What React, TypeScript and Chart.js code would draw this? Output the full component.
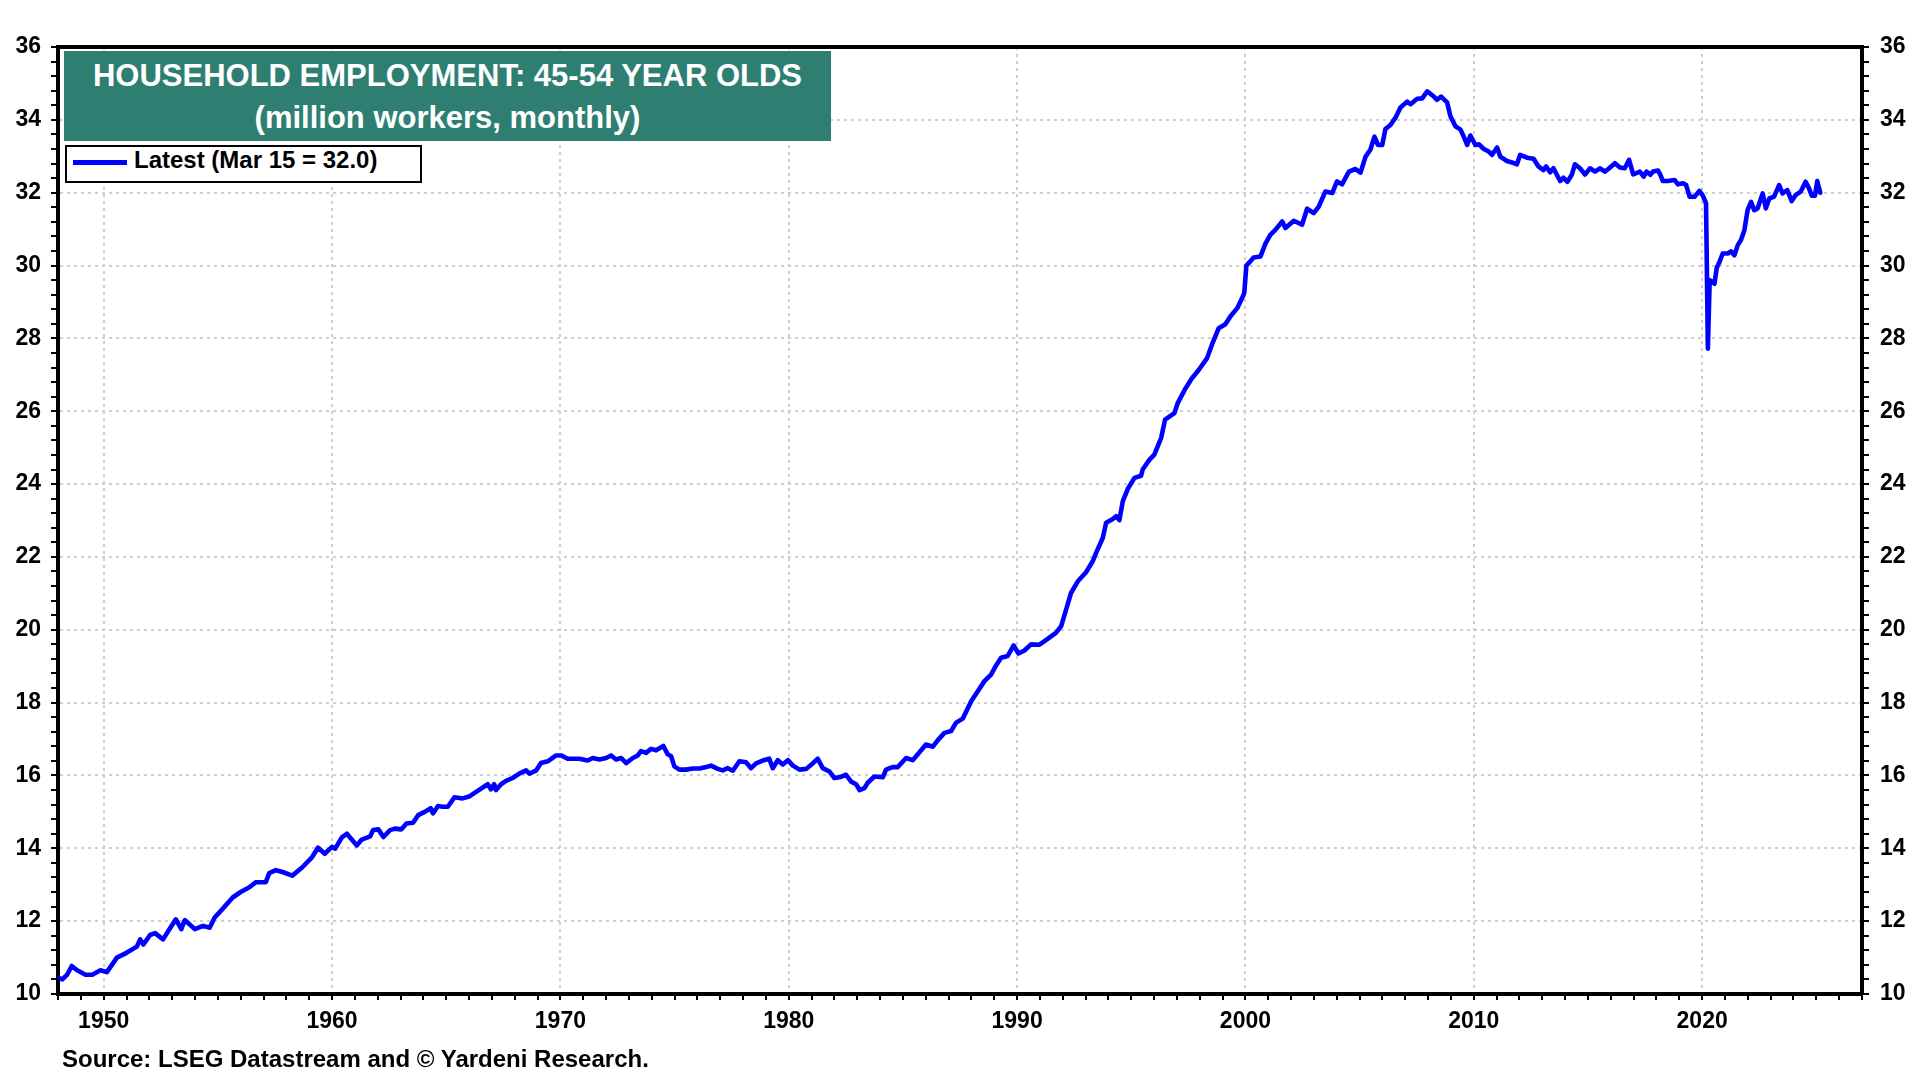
import React, { useEffect, useRef } from "react";
import { Chart, registerables } from "chart.js";

Chart.register(...registerables);

const FONT = "'Liberation Sans', Arial, Helvetica, sans-serif";

const TITLE = "HOUSEHOLD EMPLOYMENT: 45-54 YEAR OLDS";
const SUBTITLE = "(million workers, monthly)";
const LEGEND_LABEL = "Latest (Mar 15 = 32.0)";
const SOURCE = "Source: LSEG Datastream and \u00A9 Yardeni Research.";

const X_MIN = 1948;
const X_MAX = 2027;
const X_LABEL_STEP = 10;
const X_MINOR_STEP = 1;
const Y_MIN = 10;
const Y_MAX = 36;
const Y_LABEL_STEP = 2;
const Y_MINOR_STEP = 0.4;

// Household employment, 45-54 year olds (millions)
const years1948 = [
  1948.0, 1948.19, 1948.4, 1948.6, 1948.84, 1949.2, 1949.5, 1949.86, 1950.14, 1950.58,
  1951.0, 1951.45, 1951.6, 1951.74, 1952.03, 1952.25, 1952.6, 1952.83, 1953.16, 1953.4,
  1953.55, 1953.99, 1954.35, 1954.64, 1954.86, 1955.14, 1955.65, 1956.0, 1956.38, 1956.67,
  1957.1, 1957.25, 1957.54, 1957.83, 1958.26, 1958.7, 1959.13, 1959.39, 1959.68, 1960.0,
  1960.14, 1960.43, 1960.65, 1961.09, 1961.3, 1961.67, 1961.8, 1962.03, 1962.25, 1962.54,
  1962.75, 1963.04, 1963.26, 1963.55, 1963.77, 1964.06, 1964.32, 1964.42, 1964.64, 1964.86,
  1965.07, 1965.36, 1965.72, 1966.0, 1966.31, 1966.82, 1966.96, 1967.1, 1967.18, 1967.4,
  1967.62, 1967.91, 1968.2, 1968.5, 1968.64, 1968.93, 1969.15, 1969.45, 1969.81,
];
const values1948 = [
  10.45, 10.4, 10.53, 10.77, 10.65, 10.53, 10.53, 10.65, 10.6, 11.0,
  11.13, 11.3, 11.5, 11.36, 11.62, 11.67, 11.5, 11.73, 12.05, 11.78,
  12.03, 11.78, 11.87, 11.82, 12.1, 12.29, 12.65, 12.8, 12.93, 13.07,
  13.07, 13.32, 13.4, 13.35, 13.25, 13.48, 13.76, 14.02, 13.85, 14.04,
  13.99, 14.3, 14.4, 14.08, 14.24, 14.33, 14.5, 14.52, 14.31, 14.5,
  14.54, 14.52, 14.68, 14.7, 14.91, 15.0, 15.1, 14.96, 15.16, 15.14,
  15.14, 15.4, 15.37, 15.42, 15.55, 15.76, 15.62, 15.76, 15.6, 15.76,
  15.85, 15.93, 16.05, 16.14, 16.05, 16.13, 16.34, 16.39, 16.55,
];

const years1970 = [
  1970.03, 1970.32, 1970.61, 1970.83, 1971.2, 1971.42, 1971.71, 1972.0, 1972.22, 1972.44,
  1972.66, 1972.88, 1973.17, 1973.39, 1973.53, 1973.75, 1973.97, 1974.19, 1974.51, 1974.7,
  1974.85, 1974.99, 1975.21, 1975.5, 1975.8, 1976.09, 1976.38, 1976.6, 1976.89, 1977.11,
  1977.33, 1977.55, 1977.84, 1978.13, 1978.35, 1978.57, 1978.86, 1979.15, 1979.3, 1979.52,
  1979.74, 1979.96, 1980.18, 1980.47, 1980.76, 1981.05, 1981.27, 1981.49, 1981.78, 1982.0,
  1982.22, 1982.51, 1982.73, 1982.95, 1983.1, 1983.31, 1983.46, 1983.75, 1984.12, 1984.26,
  1984.55, 1984.77, 1985.14, 1985.43, 1985.65, 1986.01, 1986.31, 1986.53, 1986.82, 1987.11,
  1987.33, 1987.62, 1987.99, 1988.35, 1988.57, 1988.86, 1989.08, 1989.3, 1989.59, 1989.85,
];
const values1970 = [
  16.55, 16.46, 16.46, 16.46, 16.41, 16.48, 16.44, 16.48, 16.55, 16.44,
  16.48, 16.34, 16.48, 16.55, 16.67, 16.62, 16.73, 16.69, 16.81, 16.58,
  16.53, 16.25, 16.16, 16.16, 16.19, 16.19, 16.23, 16.27, 16.18, 16.14,
  16.2, 16.13, 16.39, 16.36, 16.2, 16.33, 16.41, 16.46, 16.2, 16.42,
  16.3, 16.42, 16.27, 16.16, 16.18, 16.33, 16.46, 16.2, 16.11, 15.93,
  15.95, 16.02, 15.83, 15.76, 15.6, 15.65, 15.8, 15.97, 15.95, 16.16,
  16.23, 16.23, 16.48, 16.42, 16.58, 16.85, 16.79, 16.97, 17.17, 17.22,
  17.45, 17.56, 18.04, 18.38, 18.59, 18.77, 19.02, 19.23, 19.28, 19.57,
];

const years1990 = [
  1990.06, 1990.32, 1990.61, 1990.98, 1991.34, 1991.71, 1991.93, 1992.15, 1992.36, 1992.66,
  1993.02, 1993.31, 1993.46, 1993.75, 1993.9, 1994.19, 1994.34, 1994.48, 1994.63, 1994.85,
  1995.14, 1995.43, 1995.5, 1995.8, 1996.01, 1996.31, 1996.48, 1996.89, 1997.04, 1997.35,
  1997.65, 1997.96, 1998.32, 1998.54, 1998.83, 1999.12, 1999.34, 1999.64, 1999.85, 1999.95,
  2000.04, 2000.15, 2000.36, 2000.66, 2000.88, 2001.09, 2001.31, 2001.61, 2001.75, 2002.12,
  2002.48, 2002.7, 2002.99, 2003.21, 2003.5, 2003.8, 2004.01, 2004.23, 2004.53, 2004.82,
  2005.04, 2005.26, 2005.47, 2005.65, 2005.8, 2005.99, 2006.13, 2006.35, 2006.57, 2006.79,
  2007.08, 2007.23, 2007.52, 2007.74, 2007.96, 2008.25, 2008.39, 2008.57, 2008.83, 2008.98,
  2009.2, 2009.42, 2009.56, 2009.71, 2009.85,
];
const values1990 = [
  19.35, 19.43, 19.6, 19.59, 19.75, 19.92, 20.1, 20.56, 21.01, 21.33,
  21.58, 21.88, 22.11, 22.52, 22.94, 23.04, 23.12, 23.01, 23.53, 23.87,
  24.17, 24.23, 24.4, 24.67, 24.81, 25.27, 25.77, 25.95, 26.23, 26.6,
  26.9, 27.14, 27.46, 27.84, 28.28, 28.39, 28.6, 28.83, 29.1, 29.25,
  30.0, 30.07, 30.22, 30.25, 30.61, 30.84, 30.98, 31.21, 31.03, 31.23,
  31.12, 31.56, 31.44, 31.62, 32.03, 31.99, 32.31, 32.23, 32.58, 32.65,
  32.55, 32.99, 33.18, 33.54, 33.31, 33.31, 33.75, 33.86, 34.06, 34.34,
  34.5, 34.43, 34.58, 34.59, 34.78, 34.64, 34.55, 34.64, 34.48, 34.09,
  33.82, 33.73, 33.54, 33.31, 33.57,
];

const years2010 = [
  2010.07, 2010.22, 2010.44, 2010.65, 2010.8, 2011.02, 2011.16, 2011.45, 2011.67, 2011.89,
  2012.03, 2012.33, 2012.62, 2012.83, 2013.05, 2013.17, 2013.34, 2013.49, 2013.63, 2013.78,
  2013.92, 2014.1, 2014.29, 2014.43, 2014.65, 2014.87, 2015.09, 2015.31, 2015.52, 2015.74,
  2015.89, 2016.18, 2016.4, 2016.61, 2016.8, 2016.98, 2017.27, 2017.44, 2017.56, 2017.73,
  2017.85, 2018.07, 2018.17, 2018.28, 2018.5, 2018.79, 2018.94, 2019.16, 2019.3, 2019.45,
  2019.67, 2019.88, 2020.03, 2020.17, 2020.25, 2020.33, 2020.54, 2020.64, 2020.76, 2020.9,
  2021.12, 2021.26, 2021.41, 2021.56, 2021.7, 2021.85, 2021.99, 2022.14, 2022.28, 2022.43,
  2022.65, 2022.79, 2022.94, 2023.15, 2023.37, 2023.52, 2023.73, 2023.92, 2024.1, 2024.32,
  2024.53, 2024.68, 2024.8, 2024.94, 2025.04, 2025.17,
];
const values2010 = [
  33.31, 33.33, 33.2, 33.13, 33.04, 33.24, 32.99, 32.87, 32.83, 32.78,
  33.04, 32.96, 32.93, 32.72, 32.62, 32.72, 32.56, 32.67, 32.5, 32.32,
  32.41, 32.3, 32.49, 32.78, 32.67, 32.5, 32.67, 32.58, 32.67, 32.58,
  32.65, 32.81, 32.69, 32.67, 32.9, 32.5, 32.58, 32.44, 32.58, 32.49,
  32.58, 32.61, 32.49, 32.32, 32.32, 32.35, 32.23, 32.26, 32.21, 31.89,
  31.89, 32.05, 31.92, 31.71, 27.72, 29.6, 29.5, 29.94, 30.1, 30.33,
  30.33, 30.39, 30.28, 30.56, 30.7, 30.97, 31.52, 31.75, 31.52, 31.57,
  31.98, 31.57, 31.84, 31.89, 32.21, 31.98, 32.07, 31.77, 31.94, 32.03,
  32.3, 32.12, 31.92, 31.92, 32.32, 32.0,
];

const SEGMENTS: [number[], number[]][] = [
  [years1948, values1948],
  [years1970, values1970],
  [years1990, values1990],
  [years2010, values2010],
];

const GRID_COLOR = "#cfcfcf";
const LINE_COLOR = "#0000ff";

const isMultiple = (v: number, step: number) =>
  Math.abs(v / step - Math.round(v / step)) < 1e-6;

export default function App() {
  const canvasRef = useRef<HTMLCanvasElement>(null);

  useEffect(() => {
    const canvas = canvasRef.current;
    if (!canvas) return;

    const points: { x: number; y: number }[] = [];
    SEGMENTS.forEach(([yrs, vals]) => {
      const n = Math.min(yrs.length, vals.length);
      for (let i = 0; i < n; i++) points.push({ x: yrs[i], y: vals[i] });
    });

    const tickFont = { family: FONT, size: 23, weight: "bold" as const };

    const yAxis = (position: "left" | "right") => ({
      type: "linear" as const,
      position,
      min: Y_MIN,
      max: Y_MAX,
      afterFit: (s: any) => {
        s.width = 58;
      },
      ticks: {
        stepSize: Y_MINOR_STEP,
        maxTicksLimit: 1000,
        autoSkip: false,
        padding: position === "left" ? 10 : 11,
        color: "#000",
        font: tickFont,
        callback: (v: any) =>
          isMultiple(Number(v), Y_LABEL_STEP) ? String(Math.round(Number(v))) : "",
      },
      grid: {
        drawOnChartArea: position === "left",
        color: (ctx: any) =>
          ctx.tick && isMultiple(ctx.tick.value, Y_LABEL_STEP) ? GRID_COLOR : "rgba(0,0,0,0)",
        lineWidth: 2,
        tickColor: "#000",
        tickLength: 7,
        tickWidth: 2,
      },
      border: { display: true, color: "#000", width: 4, dash: [3, 4] },
    });

    const chart = new Chart(canvas, {
      type: "line",
      data: {
        datasets: [
          {
            label: LEGEND_LABEL,
            data: points,
            xAxisID: "x",
            yAxisID: "y",
            borderColor: LINE_COLOR,
            backgroundColor: LINE_COLOR,
            borderWidth: 4.6,
            pointRadius: 0,
            tension: 0,
            borderJoinStyle: "round",
            borderCapStyle: "round",
          },
        ],
      },
      options: {
        animation: false,
        responsive: false,
        maintainAspectRatio: false,
        parsing: false,
        normalized: true,
        layout: { padding: 0 },
        plugins: {
          legend: { display: false },
          title: { display: false },
          tooltip: { enabled: false },
        },
        scales: {
          x: {
            type: "linear",
            position: "bottom",
            min: X_MIN,
            max: X_MAX,
            afterFit: (s: any) => {
              s.height = 86;
            },
            ticks: {
              stepSize: X_MINOR_STEP,
              maxTicksLimit: 1000,
              autoSkip: false,
              maxRotation: 0,
              minRotation: 0,
              padding: 8,
              color: "#000",
              font: tickFont,
              callback: (v: any) =>
                isMultiple(Number(v), X_LABEL_STEP) ? String(Math.round(Number(v))) : "",
            },
            grid: {
              color: (ctx: any) =>
                ctx.tick && isMultiple(ctx.tick.value, X_LABEL_STEP) ? GRID_COLOR : "rgba(0,0,0,0)",
              lineWidth: 2,
              tickColor: "#000",
              tickLength: 6,
              tickWidth: 2,
            },
            border: { display: true, color: "#000", width: 4, dash: [3, 4] },
          },
          xTop: {
            type: "linear",
            position: "top",
            min: X_MIN,
            max: X_MAX,
            afterFit: (s: any) => {
              s.height = 47;
            },
            ticks: { display: false },
            grid: { drawOnChartArea: false, drawTicks: false },
            border: { display: true, color: "#000", width: 4 },
          },
          y: yAxis("left"),
          yRight: yAxis("right"),
        } as any,
      },
    });

    return () => chart.destroy();
  }, []);

  const textBase: React.CSSProperties = {
    position: "absolute",
    fontFamily: FONT,
    fontWeight: "bold",
    whiteSpace: "nowrap",
  };

  return (
    <div
      style={{
        position: "absolute",
        left: 0,
        top: 0,
        width: 1920,
        height: 1080,
        background: "#ffffff",
        overflow: "hidden",
      }}
    >
      <canvas
        ref={canvasRef}
        width={1920}
        height={1080}
        style={{ position: "absolute", left: 0, top: 0, width: 1920, height: 1080 }}
      />
      <div
        style={{
          position: "absolute",
          left: 64,
          top: 51,
          width: 767,
          height: 90,
          background: "#2e7f72",
        }}
      >
        <div
          style={{
            ...textBase,
            left: 0,
            right: 0,
            top: 8.5,
            fontSize: 31,
            lineHeight: "31px",
            textAlign: "center",
            color: "#ffffff",
          }}
        >
          {TITLE}
        </div>
        <div
          style={{
            ...textBase,
            left: 0,
            right: 0,
            top: 50.5,
            fontSize: 31,
            lineHeight: "31px",
            textAlign: "center",
            color: "#ffffff",
          }}
        >
          {SUBTITLE}
        </div>
      </div>
      <div
        style={{
          position: "absolute",
          left: 65,
          top: 145,
          width: 357,
          height: 38,
          boxSizing: "border-box",
          border: "2px solid #000",
          background: "#ffffff",
        }}
      >
        <div
          style={{
            position: "absolute",
            left: 6,
            top: 13,
            width: 54,
            height: 5,
            background: LINE_COLOR,
          }}
        />
        <div
          style={{
            ...textBase,
            left: 67,
            top: 1,
            fontSize: 24,
            lineHeight: "24px",
            color: "#000",
          }}
        >
          {LEGEND_LABEL}
        </div>
      </div>
      <div
        style={{
          ...textBase,
          left: 62,
          top: 1046.7,
          fontSize: 24,
          lineHeight: "24px",
          color: "#000",
        }}
      >
        {SOURCE}
      </div>
    </div>
  );
}
